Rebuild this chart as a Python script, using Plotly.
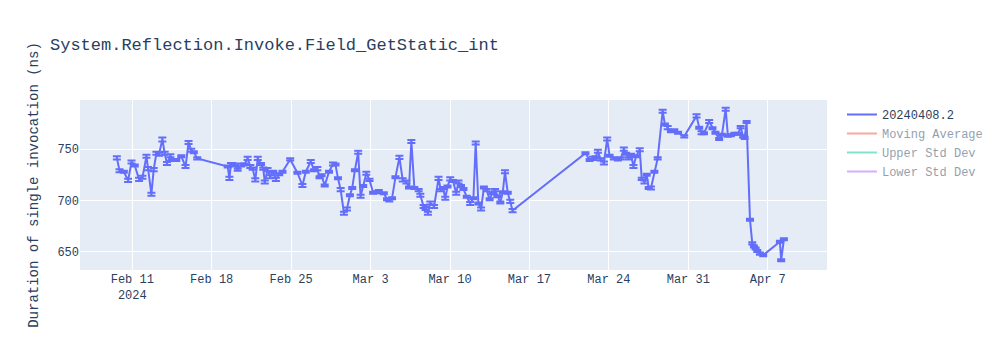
import pandas as pd
import plotly.graph_objects as go

BENCHMARK = "System.Reflection.Invoke.Field_GetStatic_int"
RUN_NAME = "20240408.2"

# Run timestamps, grouped by stretch of collection
run_dates = [
    # Feb 9 - Feb 16
    "2024-02-09 15:20", "2024-02-09 21:00", "2024-02-10 06:05", "2024-02-10 15:10",
    "2024-02-10 22:20", "2024-02-11 05:15", "2024-02-11 14:20", "2024-02-11 21:30",
    "2024-02-12 05:55", "2024-02-12 09:15", "2024-02-12 16:25", "2024-02-12 21:15",
    "2024-02-13 03:00", "2024-02-13 08:30", "2024-02-13 15:35", "2024-02-13 20:30",
    "2024-02-14 01:20", "2024-02-14 08:30", "2024-02-14 14:00", "2024-02-14 21:05",
    "2024-02-15 07:40", "2024-02-15 16:40", "2024-02-15 23:00", "2024-02-16 04:45",
    "2024-02-16 10:10", "2024-02-16 17:20",
    # Feb 19 - Feb 27
    "2024-02-19 09:50", "2024-02-19 13:25", "2024-02-19 16:35", "2024-02-19 20:20",
    "2024-02-20 02:00", "2024-02-20 06:55", "2024-02-20 14:00", "2024-02-20 21:00",
    "2024-02-21 03:55", "2024-02-21 09:40", "2024-02-21 14:30", "2024-02-21 20:10",
    "2024-02-22 01:25", "2024-02-22 08:10", "2024-02-22 13:00", "2024-02-22 16:10",
    "2024-02-22 22:05", "2024-02-23 03:45", "2024-02-23 10:05", "2024-02-23 15:45",
    "2024-02-23 22:45", "2024-02-24 05:40", "2024-02-24 21:55", "2024-02-25 13:15",
    "2024-02-25 23:50", "2024-02-26 07:00", "2024-02-26 17:30", "2024-02-27 00:25",
    "2024-02-27 07:25", "2024-02-27 12:00", "2024-02-27 16:15", "2024-02-27 23:00",
    # Feb 28 - Mar 8
    "2024-02-28 08:05", "2024-02-28 16:30", "2024-02-28 21:45", "2024-02-29 03:00",
    "2024-02-29 08:40", "2024-02-29 15:40", "2024-02-29 22:00", "2024-03-01 04:15",
    "2024-03-01 09:10", "2024-03-01 14:50", "2024-03-01 21:45", "2024-03-02 02:50",
    "2024-03-02 08:20", "2024-03-02 15:05", "2024-03-02 21:45", "2024-03-03 05:25",
    "2024-03-03 12:05", "2024-03-03 17:25", "2024-03-04 03:55", "2024-03-04 10:50",
    "2024-03-04 15:30", "2024-03-04 21:25", "2024-03-05 04:35", "2024-03-05 13:00",
    "2024-03-05 19:55", "2024-03-06 03:45", "2024-03-06 09:15", "2024-03-06 14:15",
    "2024-03-06 20:35", "2024-03-07 05:40", "2024-03-07 09:15", "2024-03-07 16:10",
    "2024-03-07 20:25", "2024-03-08 01:15", "2024-03-08 06:15", "2024-03-08 14:20",
    # Mar 8 - Mar 15
    "2024-03-08 23:45", "2024-03-09 04:35", "2024-03-09 09:15", "2024-03-09 13:55",
    "2024-03-09 18:45", "2024-03-10 00:25", "2024-03-10 06:20", "2024-03-10 13:05",
    "2024-03-10 17:55", "2024-03-10 23:10", "2024-03-11 04:25", "2024-03-11 11:25",
    "2024-03-11 18:35", "2024-03-12 01:30", "2024-03-12 06:20", "2024-03-12 12:00",
    "2024-03-12 17:45", "2024-03-12 23:40", "2024-03-13 05:30", "2024-03-13 11:50",
    "2024-03-13 17:30", "2024-03-13 23:15", "2024-03-14 04:05", "2024-03-14 10:25",
    "2024-03-14 15:40", "2024-03-14 20:15", "2024-03-15 02:10", "2024-03-15 07:25",
    "2024-03-15 12:20",
    # Mar 21 - Apr 8
    "2024-03-21 22:30", "2024-03-22 07:20", "2024-03-22 14:20", "2024-03-22 19:35",
    "2024-03-23 00:50", "2024-03-23 06:30", "2024-03-23 13:30", "2024-03-23 20:25",
    "2024-03-24 01:30", "2024-03-24 10:30", "2024-03-24 19:00", "2024-03-25 01:15",
    "2024-03-25 07:35", "2024-03-25 12:25", "2024-03-25 18:10", "2024-03-25 23:00",
    "2024-03-26 04:00", "2024-03-26 09:30", "2024-03-26 17:20", "2024-03-26 21:30",
    "2024-03-27 03:15", "2024-03-27 08:05", "2024-03-27 12:15", "2024-03-27 17:05",
    "2024-03-28 00:15", "2024-03-28 07:15", "2024-03-28 17:45", "2024-03-28 22:35",
    "2024-03-29 04:20", "2024-03-29 11:15", "2024-03-29 18:25", "2024-03-30 02:25",
    "2024-03-30 15:30", "2024-03-31 17:25", "2024-03-31 23:05", "2024-04-01 03:55",
    "2024-04-01 09:10", "2024-04-01 20:10", "2024-04-02 03:05", "2024-04-02 09:25",
    "2024-04-02 17:15", "2024-04-02 23:05", "2024-04-03 07:05", "2024-04-03 11:45",
    "2024-04-03 18:05", "2024-04-04 01:25", "2024-04-04 09:15", "2024-04-04 14:45",
    "2024-04-04 19:45", "2024-04-04 23:10", "2024-04-05 03:20", "2024-04-05 10:30",
    "2024-04-05 15:20", "2024-04-05 18:55", "2024-04-05 22:20", "2024-04-06 01:55",
    "2024-04-06 07:35", "2024-04-06 14:30", "2024-04-08 01:45", "2024-04-08 04:25",
    "2024-04-08 10:10",
]

# Mean duration of one invocation (ns)
duration_ns = [
    # Feb 9 - Feb 16
    741.5, 729, 728, 719.5,
    737.5, 734, 720.5, 722.5,
    743, 731, 706, 730,
    746, 745, 759.5, 746,
    736, 743.5, 739.5, 739.5,
    743, 733, 756.5, 749,
    747, 741,
    # Feb 19 - Feb 27
    733, 721.5, 735, 735.5,
    734, 730, 734.5, 735,
    741, 733, 731, 720,
    741, 735.5, 731, 718,
    730, 723, 728, 720.5,
    725.5, 728, 740, 727,
    714.5, 728, 738, 729.5,
    731, 722.5, 724.5, 714.5,
    # Feb 28 - Mar 8
    728, 735.5, 735, 721.5,
    710.5, 687.5, 691.5, 705,
    712, 729.5, 747, 704,
    714, 726.5, 720, 707.5,
    708, 709, 707, 701,
    700, 702, 722.5, 742,
    720, 718, 712.5, 757.5,
    712, 710, 705, 694,
    692, 687.5, 697.5, 694,
    # Mar 8 - Mar 15
    721.5, 710, 712, 702,
    713.5, 721, 719, 707,
    718, 714, 711, 703.5,
    697, 702, 756, 697,
    691.5, 712.5, 710, 701,
    707, 710, 704, 698,
    708, 728, 707.5, 699,
    690,
    # Mar 21 - Apr 8
    746, 739.5, 741, 742,
    748, 740, 736.5, 760,
    743.5, 741, 740, 741,
    750, 745.5, 741, 744.5,
    733, 743, 749.5, 721,
    718, 725, 712, 712,
    728, 741, 787, 774,
    771, 767.5, 768.5, 766,
    762.5, 782.5, 771, 766,
    765.5, 777, 770.5, 766,
    760, 764, 789, 763,
    763.5, 765, 765, 771.5,
    762.5, 761, 776.5, 681,
    658, 655, 653, 650.5,
    648, 646.5, 659.5, 641.5,
    662,
]

# Error margin of each run (ns)
error_ns = [
    # Feb 9 - Feb 16
    1.5, 1.5, 1.0, 1.5,
    1.5, 1.0, 1.5, 1.5,
    1.5, 1.5, 1.5, 1.5,
    1.5, 1.5, 2.0, 1.5,
    1.5, 1.5, 1.0, 1.0,
    1.0, 1.5, 1.5, 1.5,
    1.0, 1.0,
    # Feb 19 - Feb 27
    1.0, 1.5, 1.5, 1.0,
    1.0, 1.0, 1.5, 1.0,
    1.5, 1.5, 1.0, 1.5,
    1.5, 1.0, 1.0, 1.5,
    1.5, 1.5, 1.0, 1.5,
    1.0, 1.0, 1.0, 1.0,
    1.5, 1.0, 1.5, 1.0,
    1.5, 1.0, 1.0, 1.0,
    # Feb 28 - Mar 8
    1.0, 1.5, 1.0, 1.0,
    1.5, 1.5, 1.5, 1.0,
    1.0, 1.0, 1.5, 1.5,
    1.0, 1.5, 1.0, 1.0,
    1.0, 1.0, 1.0, 1.0,
    1.0, 1.0, 1.0, 1.5,
    1.5, 1.5, 1.0, 1.5,
    1.0, 1.0, 1.5, 1.5,
    1.5, 1.5, 1.5, 1.5,
    # Mar 8 - Mar 15
    1.5, 1.0, 1.0, 1.5,
    1.0, 1.5, 1.0, 1.5,
    1.5, 1.0, 1.0, 1.0,
    1.5, 1.0, 1.5, 1.0,
    1.5, 1.0, 1.0, 1.0,
    1.0, 1.0, 1.0, 1.0,
    1.0, 1.5, 1.0, 1.5,
    1.5,
    # Mar 21 - Apr 8
    1.0, 1.0, 1.5, 1.0,
    1.5, 1.0, 1.5, 1.5,
    1.0, 1.0, 1.0, 1.0,
    1.5, 1.0, 1.0, 1.0,
    1.5, 1.0, 1.5, 1.0,
    1.5, 1.0, 1.0, 1.5,
    1.0, 1.0, 1.5, 1.0,
    1.5, 1.0, 1.0, 1.0,
    1.0, 1.5, 1.0, 1.5,
    1.0, 1.5, 1.0, 1.0,
    1.0, 1.0, 1.5, 1.0,
    1.0, 1.0, 1.0, 1.0,
    1.0, 1.0, 1.0, 1.0,
    1.0, 1.0, 1.0, 1.0,
    1.0, 1.0, 1.0, 1.0,
    1.0,
]

assert len(run_dates) == len(duration_ns) == len(error_ns)

FONT = "Liberation Mono, Courier New, monospace"

df = pd.DataFrame({
    "date": pd.to_datetime(run_dates),
    "duration": duration_ns,
    "error": error_ns,
})
window = 10
rolling_mean = df["duration"].rolling(window, min_periods=1).mean()
rolling_std = df["duration"].rolling(window, min_periods=1).std().fillna(0)

fig = go.Figure()
fig.add_trace(go.Scatter(
    x=df["date"], y=df["duration"], mode="lines", name=RUN_NAME,
    line=dict(color="#636efa", width=2),
    error_y=dict(type="data", array=df["error"], visible=True),
))
fig.add_trace(go.Scatter(
    x=df["date"], y=rolling_mean, mode="lines", name="Moving Average",
    line=dict(color="#EF553B"), visible="legendonly",
))
fig.add_trace(go.Scatter(
    x=df["date"], y=rolling_mean + rolling_std, mode="lines", name="Upper Std Dev",
    line=dict(color="#00CC96"), visible="legendonly",
))
fig.add_trace(go.Scatter(
    x=df["date"], y=rolling_mean - rolling_std, mode="lines", name="Lower Std Dev",
    line=dict(color="#AB63FA"), visible="legendonly",
))

fig.update_layout(
    template="plotly",
    width=1000,
    height=350,
    font=dict(family=FONT),
    title=dict(text=BENCHMARK),
    yaxis=dict(title=dict(text="Duration of single invocation (ns)"), range=[632, 798]),
    xaxis=dict(range=["2024-02-06 09:24", "2024-04-12 05:21"]),
)

fig.write_html("out.html")
